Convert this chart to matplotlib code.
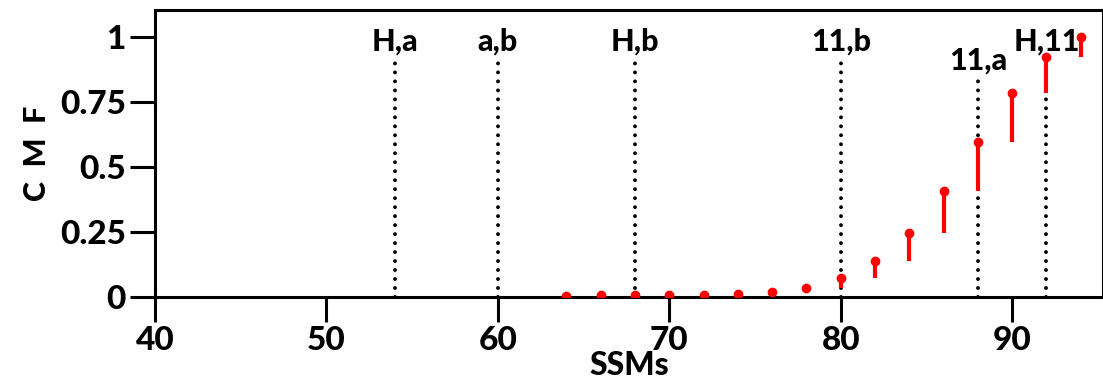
import matplotlib
matplotlib.use("Agg")
import matplotlib.pyplot as plt
import numpy as np

# SSM values and CMF at each value
ssms = [64, 66, 68, 70, 72, 74, 76, 78, 80, 82, 84, 86, 88, 90, 92, 94]
cmf = [0.005, 0.006, 0.007, 0.008, 0.009, 0.012, 0.02, 0.036, 0.072,
       0.14, 0.247, 0.408, 0.597, 0.786, 0.924, 1.0]

# reference lines
ref_x = [54, 60, 68, 80, 88, 92]
ref_labels = ["H,a", "a,b", "H,b", "11,b", "11,a", "H,11"]
ref_tops = [0.93, 0.93, 0.93, 0.93, 0.855, 0.93]

xticks = [40, 50, 60, 70, 80, 90]
yticks = [0, 0.25, 0.5, 0.75, 1]
yticklabels = ["0", "0.25", "0.5", "0.75", "1"]

plt.rc('font', family=['Lato', 'DejaVu Sans'], weight='black', size=24)

fig = plt.figure(figsize=(11.03, 3.87), dpi=100)
ax = fig.add_axes([0.1405, 0.2326, 0.8595, 0.7416])

lows = [0.0] + cmf[:-1]
ax.vlines(ssms, lows, cmf, color='red', linewidth=3.0, zorder=3)
ax.plot(ssms, cmf, 'o', color='red', markersize=6, zorder=4)

for x, lab, top in zip(ref_x, ref_labels, ref_tops):
    ax.plot([x, x], [0, top], color='black', linewidth=2.8,
            linestyle=(0, (0.01, 2.3)), dash_capstyle='round', zorder=2)
    ax.text(x, top, lab, ha='center', va='bottom', fontsize=22,
            fontweight='black')

ax.set_xlim(40, 95.3)
ax.set_ylim(0, 1.104)
ax.set_xticks(xticks)
ax.set_yticks(yticks)
ax.set_yticklabels(yticklabels)
for s in ax.spines.values():
    s.set_linewidth(2.2)
ax.tick_params(axis='both', direction='out', length=18, width=2.2, labelsize=24, pad=3)

ax.set_xlabel("SSMs", fontsize=23, fontweight='black', labelpad=-3)
ax.set_ylabel("C  M  F", fontsize=22, fontweight='black', labelpad=6)

fig.savefig('out.png', dpi=100)
plt.close(fig)
